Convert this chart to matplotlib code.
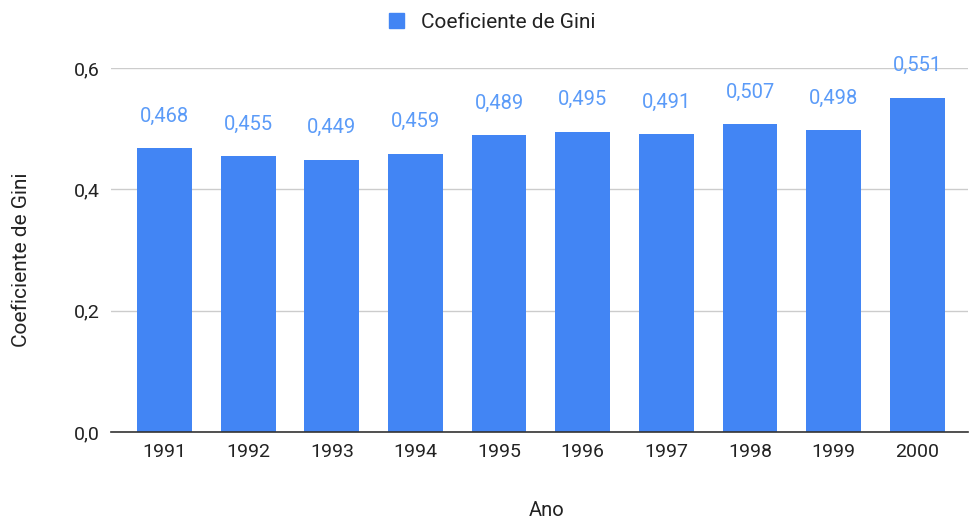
import numpy as np
import matplotlib
matplotlib.use('Agg')
import matplotlib.pyplot as plt
from matplotlib.patches import Patch

plt.rcParams['font.family'] = ['Roboto', 'DejaVu Sans']

anos = ['1991', '1992', '1993', '1994', '1995', '1996', '1997', '1998', '1999', '2000']
gini = [0.468, 0.455, 0.449, 0.459, 0.489, 0.495, 0.491, 0.507, 0.498, 0.551]
yticks = [0.0, 0.2, 0.4, 0.6]

bar_color = '#4285F4'
label_color = '#5B9BF8'
text_color = '#222222'

fig = plt.figure(figsize=(9.69, 5.2), dpi=100)
ax = fig.add_axes([0.1145, 0.1692, 0.884, 0.7000])

x = np.arange(len(anos))
ax.bar(x, gini, width=0.655, color=bar_color, zorder=3)

for xi, v in zip(x, gini):
    ax.annotate('{:.3f}'.format(v).replace('.', ','), (xi, v),
                xytext=(0, 23), textcoords='offset points', ha='center',
                va='center', fontsize=14.5, color=label_color, clip_on=False)

ax.set_xlim(-0.64, 9.6)
ax.set_ylim(0, 0.6)
ax.set_xticks(x)
ax.set_xticklabels(anos)
ax.set_yticks(yticks)
ax.set_yticklabels(['{:.1f}'.format(t).replace('.', ',') for t in yticks])
ax.tick_params(axis='both', length=0, labelsize=14, colors=text_color)
ax.tick_params(axis='x', pad=8)
ax.tick_params(axis='y', pad=8)

ax.grid(axis='y', color='#cccccc', linewidth=1, zorder=0)
for side in ['top', 'right', 'left']:
    ax.spines[side].set_visible(False)
ax.spines['bottom'].set_color('#333333')
ax.spines['bottom'].set_linewidth(1.2)
ax.spines['bottom'].set_zorder(4)

fig.text(547 / 969, 1 - 510 / 520, 'Ano', fontsize=14.5, color=text_color,
         ha='center', va='center')
fig.text(22 / 969, 1 - 260 / 520, 'Coeficiente de Gini', fontsize=15,
         color=text_color, ha='center', va='center', rotation=90)

fig.legend(handles=[Patch(color=bar_color)], labels=['Coeficiente de Gini'],
           loc='center', bbox_to_anchor=(492 / 969, 1 - 22 / 520), frameon=False,
           fontsize=15, handlelength=0.75, handleheight=0.75, handletextpad=0.8,
           labelcolor=text_color, borderpad=0)

fig.savefig('out.png', dpi=100)
